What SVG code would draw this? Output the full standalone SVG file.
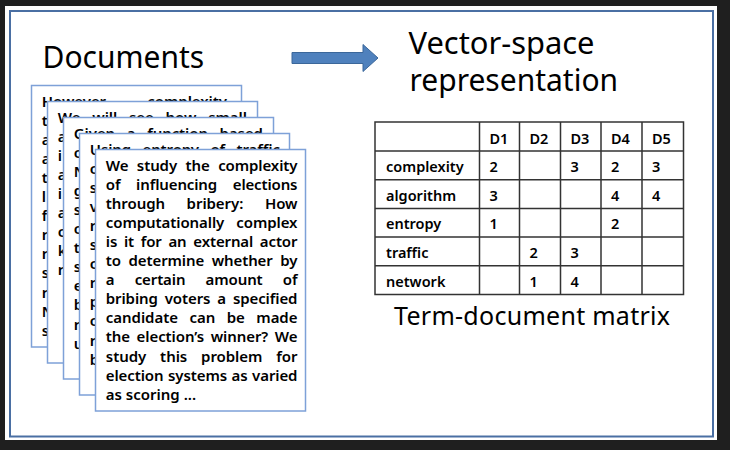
<svg xmlns="http://www.w3.org/2000/svg" width="730" height="450" viewBox="0 0 730 450">
<style>
.t{font-family:"Noto Sans","Open Sans",sans-serif;fill:#000}
.title{font-size:30px}
.p{font-size:15px;font-weight:600}
.tb{font-size:14.5px;font-weight:600}
.card{fill:#fff;stroke:#7ea1d8;stroke-width:1.5}
.grid{stroke:#333;stroke-width:1.5;fill:none}
</style>
<rect x="0" y="0" width="730" height="450" fill="#1f1f1f"/>
<rect x="5" y="6" width="712" height="434" fill="#fff"/>
<rect x="10" y="11" width="703" height="425.5" fill="none" stroke="#4a6fa3" stroke-width="2"/>

<g id="title-documents"><text class="t title" x="42.5" y="68">Documents</text></g>
<g id="title-vector"><text class="t title" x="408.5" y="53.5" textLength="186" lengthAdjust="spacingAndGlyphs">Vector-space</text><text class="t title" x="409.5" y="91">representation</text></g>

<g id="connectors">
<polygon points="292,52.5 363,52.5 363,44.5 378,58 363,71.5 363,63.5 292,63.5" fill="#4f81bd" stroke="#3b679a" stroke-width="1"/>
</g>

<g id="card1">
<rect class="card" x="31.5" y="85.5" width="210" height="261.5"/>
<g class="t p">
<text x="41.8" y="106.5" textLength="185.2" lengthAdjust="spacing" style="word-spacing:37.5px">However complexity</text>
<text x="41.8" y="125.6">t</text><text x="41.8" y="144.7">a</text><text x="41.8" y="163.8">a</text><text x="41.8" y="182.9">t</text>
<text x="41.8" y="202">l</text><text x="41.8" y="221.1">f</text><text x="41.8" y="240.2">r</text><text x="41.8" y="259.3">r</text>
<text x="41.8" y="278.4">s</text><text x="41.8" y="297.5">r</text><text x="41.8" y="316.6">N</text><text x="41.8" y="335.7">s</text>
</g>
</g>

<g id="card2">
<rect class="card" x="47.5" y="101.5" width="210" height="261.5"/>
<g class="t p">
<text x="57.8" y="122.5" textLength="189.2" lengthAdjust="spacing" style="word-spacing:7.9px">We will see how small</text>
<text x="57.8" y="141.6">a</text><text x="57.8" y="160.7">i</text><text x="57.8" y="179.8">a</text><text x="57.8" y="198.9">i</text>
<text x="57.8" y="218">a</text><text x="57.8" y="237.1">c</text><text x="57.8" y="256.2">k</text><text x="57.8" y="275.3">r</text>
</g>
</g>

<g id="card3">
<rect class="card" x="63.5" y="117.5" width="210" height="261.5"/>
<g class="t p">
<text x="73.8" y="138.5" textLength="189.2" lengthAdjust="spacing" style="word-spacing:7.9px">Given a function based</text>
<text x="73.8" y="157.6">c</text><text x="73.8" y="176.7">N</text><text x="73.8" y="195.8">g</text><text x="73.8" y="214.9">s</text>
<text x="73.8" y="234">c</text><text x="73.8" y="253.1">t</text><text x="73.8" y="272.2">s</text><text x="73.8" y="291.3">e</text>
<text x="73.8" y="310.4">b</text><text x="73.8" y="329.5">r</text><text x="73.8" y="348.6">u</text>
</g>
</g>

<g id="card4">
<rect class="card" x="79.5" y="133.5" width="210" height="261.5"/>
<g class="t p">
<text x="89.8" y="154.5" textLength="190.2" lengthAdjust="spacing" style="word-spacing:7.8px">Using entropy of traffic</text>
<text x="89.8" y="173.6">c</text><text x="89.8" y="192.7">s</text><text x="89.8" y="211.8">v</text><text x="89.8" y="230.9">r</text>
<text x="89.8" y="250">s</text><text x="89.8" y="269.1">c</text><text x="89.8" y="288.2">r</text><text x="89.8" y="307.3">p</text>
<text x="89.8" y="326.4">c</text><text x="89.8" y="345.5">r</text><text x="89.8" y="364.6">b</text>
</g>
</g>

<g id="card5">
<rect class="card" x="95.5" y="149.5" width="210" height="261.5"/>
<g class="t p">
<text x="105.8" y="170.5" textLength="191.7" lengthAdjust="spacing" style="word-spacing:4.7px">We study the complexity</text>
<text x="105.8" y="189.6" textLength="191.7" lengthAdjust="spacing" style="word-spacing:12px">of influencing elections</text>
<text x="105.8" y="208.7" textLength="191.7" lengthAdjust="spacing" style="word-spacing:17.8px">through bribery: How</text>
<text x="105.8" y="227.8" textLength="191.7" lengthAdjust="spacing" style="word-spacing:8.3px">computationally complex</text>
<text x="105.8" y="246.9" textLength="191.7" lengthAdjust="spacing" style="word-spacing:3px">is it for an external actor</text>
<text x="105.8" y="266" textLength="191.7" lengthAdjust="spacing" style="word-spacing:3.8px">to determine whether by</text>
<text x="105.8" y="285.1" textLength="191.7" lengthAdjust="spacing" style="word-spacing:16.4px">a certain amount of</text>
<text x="105.8" y="304.2" textLength="191.7" lengthAdjust="spacing" style="word-spacing:3.2px">bribing voters a specified</text>
<text x="105.8" y="323.3" textLength="191.7" lengthAdjust="spacing" style="word-spacing:7.6px">candidate can be made</text>
<text x="105.8" y="342.4" textLength="191.7" lengthAdjust="spacing" style="word-spacing:2.8px">the election’s winner? We</text>
<text x="105.8" y="361.5" textLength="191.7" lengthAdjust="spacing" style="word-spacing:10.1px">study this problem for</text>
<text x="105.8" y="380.6" textLength="191.7" lengthAdjust="spacing" style="word-spacing:0.8px">election systems as varied</text>
<text x="105.8" y="399.7">as scoring ...</text>
</g>
</g>

<g id="table">
<rect class="grid" x="375" y="122" width="308.5" height="172.5"/>
<path class="grid" d="M479.5 122V294.5M519.5 122V294.5M560.5 122V294.5M601 122V294.5M642 122V294.5M375 151H683.5M375 179.7H683.5M375 208.4H683.5M375 237.1H683.5M375 265.8H683.5"/>
<g class="t tb">
<text x="489.5" y="143.5">D1</text><text x="529.5" y="143.5">D2</text><text x="570.5" y="143.5">D3</text><text x="611" y="143.5">D4</text><text x="652" y="143.5">D5</text>
<text x="386" y="172">complexity</text><text x="489.5" y="172">2</text><text x="570.5" y="172">3</text><text x="611" y="172">2</text><text x="652" y="172">3</text>
<text x="386" y="200.5">algorithm</text><text x="489.5" y="200.5">3</text><text x="611" y="200.5">4</text><text x="652" y="200.5">4</text>
<text x="386" y="229">entropy</text><text x="489.5" y="229">1</text><text x="611" y="229">2</text>
<text x="386" y="258">traffic</text><text x="529.5" y="258">2</text><text x="570.5" y="258">3</text>
<text x="386" y="286.5">network</text><text x="529.5" y="286.5">1</text><text x="570.5" y="286.5">4</text>
</g>
</g>

<g id="caption"><text class="t" x="394" y="325" font-size="25" textLength="276">Term-document matrix</text></g>
</svg>
